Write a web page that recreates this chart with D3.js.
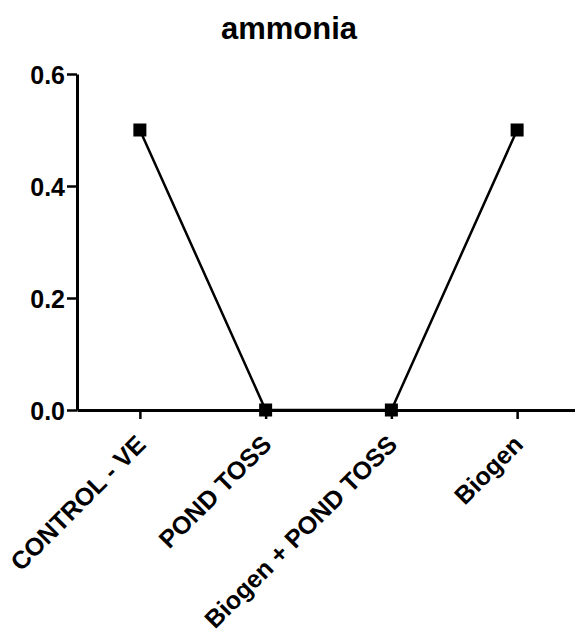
<!DOCTYPE html>
<html><head><meta charset="utf-8">
<script src="https://cdn.jsdelivr.net/npm/d3@7"></script>
<style>body{margin:0;background:#fff}svg{display:block}text{font-family:"Liberation Sans",Arial,sans-serif;font-weight:bold;fill:#000}</style>
</head><body>
<script>
const categories = ["CONTROL - VE", "POND TOSS", "Biogen + POND TOSS", "Biogen"];
const values = [0.5, 0.0, 0.0, 0.5];
const yTicks = [0.0, 0.2, 0.4, 0.6];
const title = "ammonia";

const W = 575, H = 632;
const svg = d3.select("body").append("svg").attr("width", W).attr("height", H);
const x = d3.scalePoint().domain(categories).range([77, 580]).padding(0.5);
const y = d3.scaleLinear().domain([0, 0.6]).range([410, 74]);

svg.append("text").attr("x", 289).attr("y", 39).attr("text-anchor", "middle")
  .style("font-size", "31px").text(title);

// y axis
const ya = svg.append("g").attr("transform", "translate(77,0)")
  .call(d3.axisLeft(y).tickValues(yTicks).tickFormat(d3.format(".1f")).tickSize(10).tickSizeOuter(0));
ya.select(".domain").attr("stroke-width", 3);
ya.selectAll(".tick line").attr("stroke-width", 2.5);
ya.selectAll(".tick text").style("font-size", "25px").attr("x", -12).attr("dy", "0.36em");

// x axis
const xa = svg.append("g").attr("transform", "translate(0,410)")
  .call(d3.axisBottom(x).tickSize(9).tickSizeOuter(0));
xa.select(".domain").attr("stroke-width", 3);
xa.selectAll(".tick line").attr("stroke-width", 2.5);
xa.selectAll(".tick text").style("font-size", "25px").attr("text-anchor", "end")
  .attr("x", 0).attr("y", 0).attr("dy", 0)
  .attr("transform", "translate(7,36) rotate(-45)");

// line
svg.append("path").datum(values.map((v, i) => [categories[i], v]))
  .attr("fill", "none").attr("stroke", "#000").attr("stroke-width", 2.5)
  .attr("d", d3.line().x(d => x(d[0])).y(d => y(d[1])));

const s = 13;
svg.selectAll("rect.pt").data(values).enter().append("rect").attr("class", "pt")
  .attr("x", (d, i) => x(categories[i]) - s / 2).attr("y", d => y(d) - s / 2)
  .attr("width", s).attr("height", s).attr("fill", "#000");
</script>
</body></html>
